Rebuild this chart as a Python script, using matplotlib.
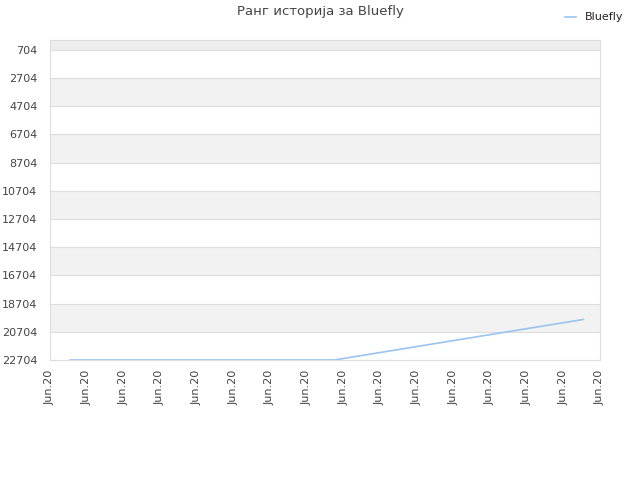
import matplotlib
matplotlib.use("Agg")
import matplotlib.pyplot as plt
import numpy as np

title = "Ранг историја за Bluefly"
series_name = "Bluefly"
x_tick_labels = ["Jun.20"] * 16
y_ticks = [704, 2704, 4704, 6704, 8704, 10704, 12704, 14704, 16704, 18704, 20704, 22704]
x_pos = [0.55, 7.75, 14.55]
ranks = [22704, 22704, 19825]

fig = plt.figure(figsize=(6.4, 4.8), dpi=100)
ax = fig.add_axes([50/640, 1-360/480, 550/640, 320/480])

ymin, ymax = 0, 22704
ax.set_ylim(ymax, ymin)
ax.set_xlim(0, 15)

# alternating bands
edges = [0] + y_ticks
for i in range(len(edges) - 1):
    if i == 0:
        c = "#eeeeee"
    elif i % 2 == 0:
        c = "#f2f2f2"
    else:
        c = "#ffffff"
    ax.axhspan(edges[i], edges[i+1], color=c, zorder=0, lw=0)

ax.set_yticks(y_ticks)
ax.set_yticklabels([str(v) for v in y_ticks])
ax.set_xticks(np.arange(16))
ax.set_xticklabels(x_tick_labels, rotation=90)
ax.yaxis.grid(True, color="#dddddd", lw=0.8)
ax.set_axisbelow(True)
ax.tick_params(axis="y", length=0, labelsize=8, colors="#444444", pad=9)
ax.tick_params(axis="x", length=0, labelsize=8, colors="#444444", pad=7)

for s in ax.spines.values():
    s.set_color("#dddddd")
    s.set_linewidth(0.8)

ax.plot(x_pos, ranks, color="#99c4f0", lw=1.2, label=series_name, zorder=3)

fig.text(0.5, 1-12/480, title, ha="center", va="center", fontsize=9.5, color="#444444")
leg = fig.legend(loc="upper right", bbox_to_anchor=(0.99, 0.995), frameon=False,
                 fontsize=8, handlelength=1.0, handletextpad=0.8)
for t in leg.get_texts():
    t.set_color("#222222")

fig.savefig("out.png", dpi=100)
